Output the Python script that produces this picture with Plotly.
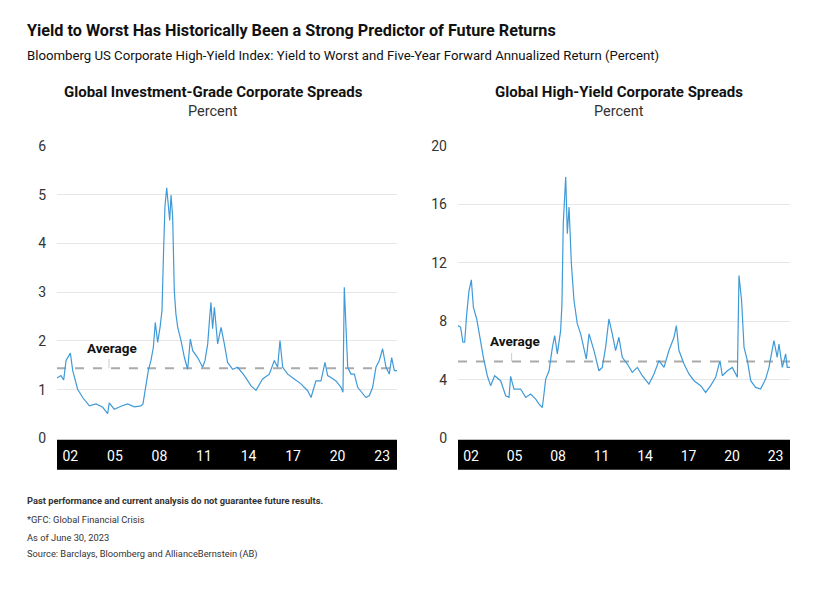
import plotly.graph_objects as go

ig_years = [2001.10,2001.37,2001.55,2001.71,2002.00,2002.16,2002.49,2002.83,2003.28,2003.73,2004.18,2004.51,2004.62,2004.96,2005.41,2005.86,2006.31,2006.76,2006.89,2007.09,2007.25,2007.43,2007.59,2007.72,2007.88,2008.04,2008.17,2008.28,2008.37,2008.49,2008.60,2008.69,2008.78,2008.89,2009.00,2009.11,2009.23,2009.45,2009.68,2009.90,2010.08,2010.24,2010.57,2010.91,2011.07,2011.25,2011.40,2011.47,2011.58,2011.70,2011.92,2012.15,2012.37,2012.59,2012.93,2013.27,2013.72,2014.17,2014.50,2014.95,2015.40,2015.74,2015.96,2016.12,2016.30,2016.64,2017.08,2017.53,2017.98,2018.21,2018.54,2018.88,2019.15,2019.33,2019.55,2019.89,2020.23,2020.36,2020.45,2020.56,2020.68,2020.90,2021.13,2021.35,2021.69,2021.91,2022.14,2022.36,2022.58,2022.81,2023.03,2023.26,2023.48,2023.64,2023.82,2024.00]
ig_values = [1.24,1.29,1.20,1.60,1.75,1.39,1.01,0.84,0.67,0.71,0.64,0.51,0.73,0.60,0.66,0.71,0.65,0.67,0.71,1.12,1.39,1.60,1.87,2.38,1.97,2.28,2.62,3.86,4.75,5.14,4.75,4.47,4.99,4.54,3.03,2.55,2.28,2.01,1.66,1.42,2.04,1.80,1.66,1.46,1.60,1.94,2.55,2.79,2.25,2.69,1.94,2.28,1.94,1.56,1.42,1.46,1.29,1.08,0.99,1.22,1.32,1.60,1.46,2.01,1.46,1.32,1.22,1.12,0.98,0.84,1.18,1.18,1.56,1.29,1.25,1.18,1.05,0.95,3.10,2.11,1.46,1.32,1.32,1.05,0.91,0.84,0.88,1.05,1.46,1.60,1.84,1.46,1.32,1.66,1.39,1.39]
ig_average = 1.44

hy_years = [2001.10,2001.28,2001.44,2001.56,2001.70,2001.86,2002.02,2002.16,2002.39,2002.62,2002.85,2003.12,2003.35,2003.63,2004.04,2004.39,2004.62,2004.73,2004.96,2005.42,2005.77,2006.11,2006.46,2006.69,2006.92,2007.15,2007.38,2007.61,2007.77,2007.95,2008.18,2008.27,2008.36,2008.53,2008.64,2008.76,2008.92,2009.10,2009.33,2009.56,2009.79,2009.95,2010.14,2010.48,2010.82,2011.05,2011.28,2011.51,2011.74,2011.97,2012.20,2012.43,2012.78,2013.12,2013.47,2013.81,2014.27,2014.62,2014.96,2015.31,2015.65,2016.00,2016.16,2016.34,2016.69,2017.03,2017.38,2017.84,2018.18,2018.53,2018.87,2019.17,2019.33,2019.68,2020.02,2020.37,2020.48,2020.66,2020.83,2021.06,2021.29,2021.63,2021.97,2022.32,2022.55,2022.89,2023.12,2023.24,2023.47,2023.70,2023.81,2024.00]
hy_values = [7.72,7.60,6.58,6.58,8.52,10.11,10.84,8.97,8.17,6.69,5.55,4.29,3.61,4.29,3.95,2.92,2.81,4.25,3.38,3.38,2.81,3.04,2.69,2.35,2.12,4.06,4.63,6.23,7.03,5.78,7.37,9.20,14.68,17.88,14.00,15.82,11.94,9.43,7.83,7.15,6.23,5.43,7.15,6.01,4.63,4.86,6.23,8.17,7.15,6.01,6.92,5.55,5.09,4.52,4.86,4.29,3.72,4.41,5.32,4.86,6.01,6.92,7.72,6.01,5.09,4.41,3.95,3.61,3.15,3.61,4.18,5.32,4.29,4.63,4.86,4.18,11.14,9.43,6.23,5.32,3.95,3.49,3.38,4.06,4.86,6.69,5.55,6.46,4.86,5.78,4.86,4.86]
hy_average = 5.27

tick_years = [2002, 2005, 2008, 2011, 2014, 2017, 2020, 2023]
tick_labels = ["02", "05", "08", "11", "14", "17", "20", "23"]
ig_yticks = [0, 1, 2, 3, 4, 5, 6]
hy_yticks = [0, 4, 8, 12, 16, 20]

W, H = 827, 594
A, B, DX = 15.9, 0.971, -7

def px(x):
    return (x + DX) / W

def py(y):
    return 1 - ((y - A) / B) / H

BLUE = "#3f9ad8"
fig = go.Figure()
fig.add_trace(go.Scatter(x=ig_years, y=ig_values, mode="lines", line=dict(color=BLUE, width=1.2), xaxis="x", yaxis="y", showlegend=False))
fig.add_trace(go.Scatter(x=hy_years, y=hy_values, mode="lines", line=dict(color=BLUE, width=1.2), xaxis="x2", yaxis="y2", showlegend=False))

xcommon = dict(range=[2001.1, 2024.0], tickvals=tick_years, ticktext=tick_labels, showgrid=False, zeroline=False,
               showline=False, ticks="", tickfont=dict(family="Roboto, Arial", size=14, color="white"), ticklabelstandoff=8)
ycommon = dict(showgrid=True, gridcolor="#e6e6e6", gridwidth=1, zeroline=False, showline=False, ticks="",
               tickfont=dict(family="Roboto, Arial", size=14, color="#333"), ticklabelstandoff=10)
fig.update_layout(
    width=W, height=H, margin=dict(l=0, r=0, t=0, b=0), plot_bgcolor="white", paper_bgcolor="white",
    xaxis=dict(domain=[px(56), px(396)], anchor="y", **xcommon),
    xaxis2=dict(domain=[px(457), px(789)], anchor="y2", **xcommon),
    yaxis=dict(domain=[py(437.5), py(145.5)], anchor="x", range=[0, 6], tickvals=ig_yticks, **ycommon),
    yaxis2=dict(domain=[py(437.5), py(145.5)], anchor="x2", range=[0, 20], tickvals=hy_yticks, **ycommon),
)

shapes = []
for xr, yr, avg in [("x", "y", ig_average), ("x2", "y2", hy_average)]:
    shapes.append(dict(type="rect", xref=f"{xr} domain", yref=f"{yr} domain", x0=0, x1=1, y0=-0.004, y1=-0.107,
                       fillcolor="black", line=dict(width=0), layer="below"))
    shapes.append(dict(type="line", xref=f"{xr} domain", yref=yr, x0=0, x1=1, y0=avg, y1=avg,
                       line=dict(color="#aaaaaa", width=2, dash="dash"), layer="below"))
fig.update_layout(shapes=shapes)

ann = []
def t(x, y, text, size, bold=False, color="#111", xanchor="left"):
    ann.append(dict(xref="paper", yref="paper", x=px(x), y=py(y), text=f"<b>{text}</b>" if bold else text,
                    showarrow=False, xanchor=xanchor, yanchor="middle",
                    font=dict(family="Roboto, Arial", size=size, color=color)))
t(24, 30, "Yield to Worst Has Historically Been a Strong Predictor of Future Returns", 16.2, True)
t(24, 55, "Bloomberg US Corporate High-Yield Index: Yield to Worst and Five-Year Forward Annualized Return (Percent)", 13.2)
t(212, 92, "Global Investment-Grade Corporate Spreads", 15, True, xanchor="center")
t(212, 111, "Percent", 14.5, xanchor="center", color="#333")
t(618, 92, "Global High-Yield Corporate Spreads", 15, True, xanchor="center")
t(618, 111, "Percent", 14.5, xanchor="center", color="#333")
t(24, 499, "Past performance and current analysis do not guarantee future results.", 9.3, True, color="#333")
t(24, 518, "*GFC: Global Financial Crisis", 9.3, color="#333")
t(24, 536, "As of June 30, 2023", 9.3, color="#333")
t(24, 553, "Source: Barclays, Bloomberg and AllianceBernstein (AB)", 9.3, color="#333")
for xr, yr, xa, avg, top in [("x", "y", 2004.8, ig_average, 1.66), ("x2", "y2", 2005.0, hy_average, 5.95)]:
    ann.append(dict(xref=xr, yref=yr, x=xa, y=top, text="<b>Average</b>", showarrow=False, yanchor="bottom",
                    font=dict(family="Roboto, Arial", size=13.5, color="#111")))
    ann.append(dict(xref=xr, yref=yr, x=xa - 0.2, y=avg, ax=xa - 0.2, ay=top, axref=xr, ayref=yr,
                    showarrow=True, arrowhead=0, arrowwidth=1, arrowcolor="#cccccc", text=""))
fig.update_layout(annotations=ann)
fig.write_html("out.html")
